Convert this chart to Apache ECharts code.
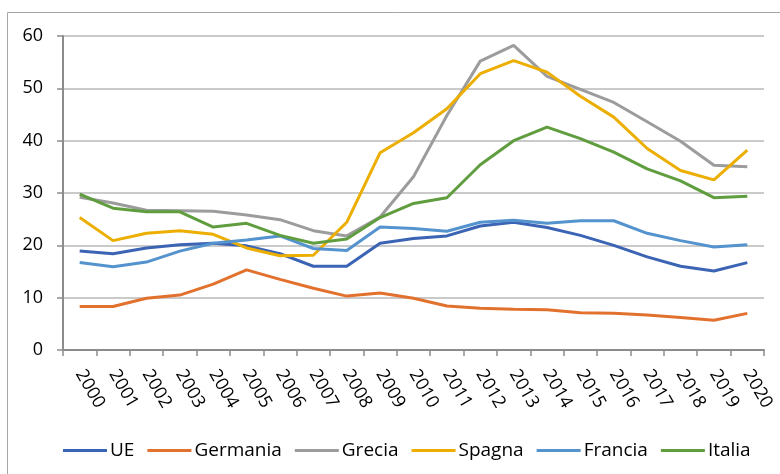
<!DOCTYPE html>
<html>
<head>
<meta charset="utf-8">
<script src="https://cdn.jsdelivr.net/npm/echarts@6/dist/echarts.min.js"></script>
<style>
  html, body { margin: 0; padding: 0; background: #fff; }
  #main { width: 780px; height: 474px; }
</style>
</head>
<body>
<div id="main"></div>
<script>
const years = ["2000", "2001", "2002", "2003", "2004", "2005", "2006", "2007", "2008", "2009", "2010",
  "2011", "2012", "2013", "2014", "2015", "2016", "2017", "2018", "2019", "2020"];

const ue = [18.9, 18.4, 19.5, 20.1, 20.4, 19.9, 18.4, 16.0, 16.0, 20.4, 21.3,
  21.8, 23.7, 24.4, 23.4, 21.9, 20.0, 17.8, 16.0, 15.1, 16.7];
const germania = [8.3, 8.3, 9.9, 10.5, 12.6, 15.3, 13.5, 11.8, 10.3, 10.9, 9.9,
  8.4, 8.0, 7.8, 7.7, 7.1, 7.0, 6.7, 6.2, 5.7, 7.0];
const grecia = [29.2, 28.1, 26.7, 26.6, 26.5, 25.8, 24.9, 22.8, 21.8, 25.4, 33.1,
  44.8, 55.2, 58.2, 52.3, 49.8, 47.3, 43.6, 39.9, 35.3, 35.0];
const spagna = [25.3, 20.9, 22.3, 22.8, 22.1, 19.5, 18.0, 18.1, 24.4, 37.7, 41.5,
  46.1, 52.8, 55.3, 53.1, 48.5, 44.5, 38.5, 34.3, 32.5, 38.2];
const francia = [16.7, 15.9, 16.8, 18.9, 20.4, 21.0, 21.8, 19.4, 19.0, 23.5, 23.2,
  22.7, 24.4, 24.8, 24.2, 24.7, 24.7, 22.3, 20.9, 19.7, 20.1];
const italia = [29.8, 27.1, 26.4, 26.4, 23.5, 24.2, 21.9, 20.4, 21.2, 25.3, 28.0,
  29.1, 35.4, 40.0, 42.6, 40.4, 37.8, 34.6, 32.3, 29.1, 29.4];

const seriesNames = ["UE", "Germania", "Grecia", "Spagna", "Francia", "Italia"];
const seriesData = [ue, germania, grecia, spagna, francia, italia];
const colors = ["#3C64B4", "#E2712E", "#9C9C9C", "#ECAE00", "#5593CF", "#5F9D3E"];

const yTicks = { min: 0, max: 60, interval: 10 };

const font = "'Open Sans', 'Liberation Sans', sans-serif";

const chart = echarts.init(document.getElementById("main"));
chart.setOption({
  animation: false,
  color: colors,
  textStyle: { fontFamily: font },
  graphic: [
    {
      type: "rect",
      shape: { x: 7.5, y: 12.5, width: 800, height: 500 },
      style: { fill: "none", stroke: "#a6a6a6", lineWidth: 1 },
      silent: true,
    },
  ],
  grid: { left: 63, right: 16, top: 36, bottom: 124 },
  legend: {
    data: seriesNames,
    left: 58,
    top: 436,
    icon: "rect",
    itemWidth: 44,
    itemHeight: 3,
    itemGap: 13,
    textStyle: { fontFamily: font, fontSize: 19, color: "#000", padding: [0, 0, 0, -2] },
  },
  xAxis: {
    type: "category",
    data: years,
    boundaryGap: true,
    axisLine: { lineStyle: { color: "#8c8c8c", width: 2 } },
    axisTick: { show: true, length: 6, lineStyle: { color: "#8c8c8c", width: 1.5 } },
    axisLabel: {
      rotate: -60,
      margin: 21,
      interval: 0,
      fontFamily: font,
      fontSize: 18,
      color: "#000",
    },
  },
  yAxis: {
    type: "value",
    min: yTicks.min,
    max: yTicks.max,
    interval: yTicks.interval,
    axisLine: { show: true, lineStyle: { color: "#8c8c8c", width: 2 } },
    axisTick: { show: true, length: 6, lineStyle: { color: "#8c8c8c", width: 1.5 } },
    axisLabel: { margin: 20, fontFamily: font, fontSize: 18, color: "#000" },
    splitLine: { lineStyle: { color: "#b8b8b8", width: 1.5 } },
  },
  series: seriesNames.map((name, i) => ({
    name,
    type: "line",
    data: seriesData[i],
    symbol: "none",
    lineStyle: { width: 3 },
  })),
});
</script>
</body>
</html>
